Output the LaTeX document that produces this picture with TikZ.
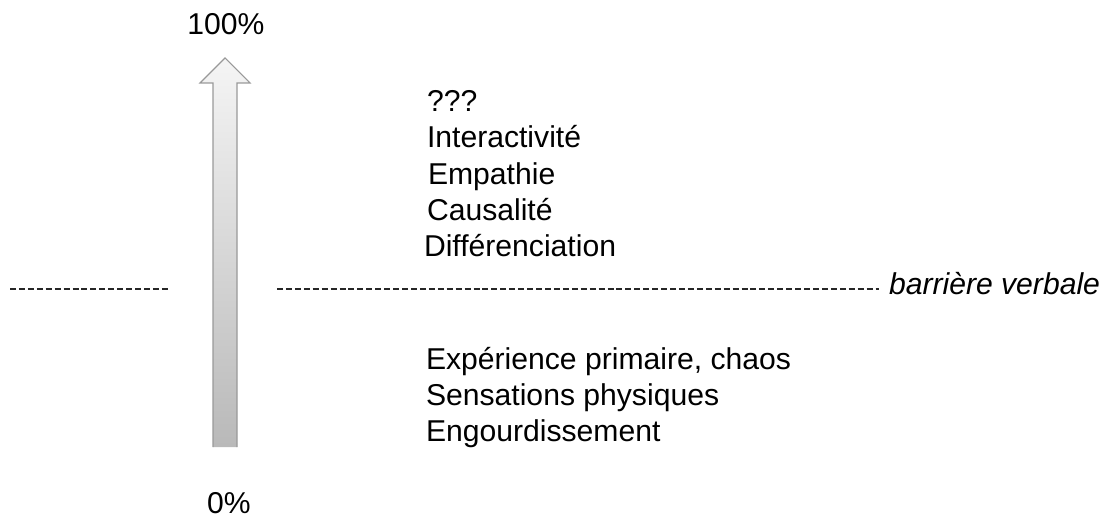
\documentclass[tikz,border=0pt]{standalone}
\usepackage{fontspec}
\setmainfont{Liberation Sans}
\usetikzlibrary{calc}
\begin{document}
\begin{tikzpicture}[x=0.75pt,y=-0.75pt,
  lbl/.style={inner sep=0pt,outer sep=0pt,anchor=base west,font=\fontsize{22.6}{26}\selectfont},
  pct/.style={inner sep=0pt,outer sep=0pt,anchor=base,font=\fontsize{22.6}{26}\selectfont},
  barrier/.style={draw=black!85,line width=1pt,dash pattern=on 4.5pt off 2.2pt}]
\useasboundingbox (0,0) rectangle (1114,520);

% scale labels
\node[pct] (top) at (226,35) {100\%};
\node[pct] (bottom) at (229,513) {0\%};

% rising arrow, light at the tip and darker towards the base
\shade[top color=gray!8,bottom color=gray!55]
  (213,447) -- (213,83) -- (200,83) -- (225,58) -- (250,83) -- (237,83) -- (237,447) -- cycle;
\draw[gray!80,line width=0.8pt,line join=miter]
  (213,447) -- (213,83) -- (200,83) -- (225,58) -- (250,83) -- (237,83) -- (237,447);

% levels above the barrier
\node[lbl] (q)   at (427,112) {???};
\node[lbl] (int) at (427,148) {Interactivité};
\node[lbl] (emp) at (428,185) {Empathie};
\node[lbl] (cau) at (427,221) {Causalité};
\node[lbl] (dif) at (424,257) {Différenciation};

% levels below the barrier
\node[lbl] (exp) at (426,369) {Expérience primaire, chaos};
\node[lbl] (sen) at (426,405) {Sensations physiques};
\node[lbl] (eng) at (426,441) {Engourdissement};

% verbal barrier
\node[lbl,font=\fontsize{22.6}{26}\selectfont\itshape] (bv) at (889,295) {barrière verbale};
\coordinate (l1) at (10,289);
\coordinate (l2) at (168,289);
\coordinate (r1) at (277,289);
\coordinate (r2) at ($(bv.west |- r1)+(-10,0)$);
\draw[barrier] (l1) -- (l2);
\draw[barrier] (r1) -- (r2);
\end{tikzpicture}
\end{document}
